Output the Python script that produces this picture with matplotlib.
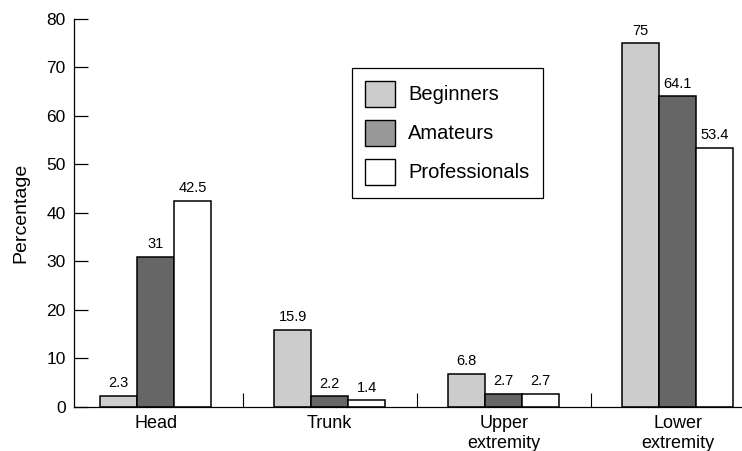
"""Injury location by skill level, grouped bar chart."""
import matplotlib.pyplot as plt
import numpy as np
from matplotlib.patches import Patch

plt.rcParams["font.family"] = ["Liberation Sans", "DejaVu Sans"]

categories = ["Head", "Trunk", "Upper\nextremity", "Lower\nextremity"]
groups = ["Beginners", "Amateurs", "Professionals"]
beginners = [2.3, 15.9, 6.8, 75]
amateurs = [31, 2.2, 2.7, 64.1]
professionals = [42.5, 1.4, 2.7, 53.4]

bar_colors = ["#cccccc", "#666666", "#ffffff"]
legend_colors = ["#cccccc", "#999999", "#ffffff"]

fig = plt.figure(figsize=(7.42, 4.51), dpi=100)
ax = fig.add_axes([0.0997, 0.0976, 0.9003, 0.8603])

x = np.arange(len(categories))
width = 0.213
for i, (vals, color) in enumerate(zip([beginners, amateurs, professionals], bar_colors)):
    bars = ax.bar(x + (i - 1) * width, vals, width, color=color,
                  edgecolor="black", linewidth=1.1)
    ax.bar_label(bars, labels=[f"{v:g}" for v in vals], padding=4, fontsize=10.5)

ax.set_xlim(-0.47, 3.37)
ax.set_ylim(0, 80)
ax.set_yticks(range(0, 81, 10))
ax.set_xticks(x)
ax.set_xticklabels(categories, fontsize=13, linespacing=1.2)
ax.set_xticks([0.5, 1.5, 2.5], minor=True)
ax.tick_params(axis="x", which="major", length=0, pad=6)
ax.tick_params(axis="x", which="minor", direction="in", length=10, width=0.8)
ax.tick_params(axis="y", direction="in", length=10, width=0.9, labelsize=12.5, pad=6)
ax.spines["top"].set_visible(False)
ax.spines["right"].set_visible(False)
ax.spines["left"].set_linewidth(0.9)
ax.spines["bottom"].set_linewidth(0.9)
ax.set_ylabel("Percentage", fontsize=14, labelpad=12)

handles = [Patch(facecolor=c, edgecolor="black", linewidth=1.0) for c in legend_colors]
leg = ax.legend(handles, groups, loc="upper left", bbox_to_anchor=(0.416, 0.874),
                borderaxespad=0, fontsize=14.5, handlelength=1.5, handleheight=1.6,
                labelspacing=0.65, handletextpad=0.65, borderpad=0.65,
                fancybox=False, framealpha=1)
leg.get_frame().set_edgecolor("black")
leg.get_frame().set_linewidth(0.9)

fig.savefig("out.png", dpi=100)
